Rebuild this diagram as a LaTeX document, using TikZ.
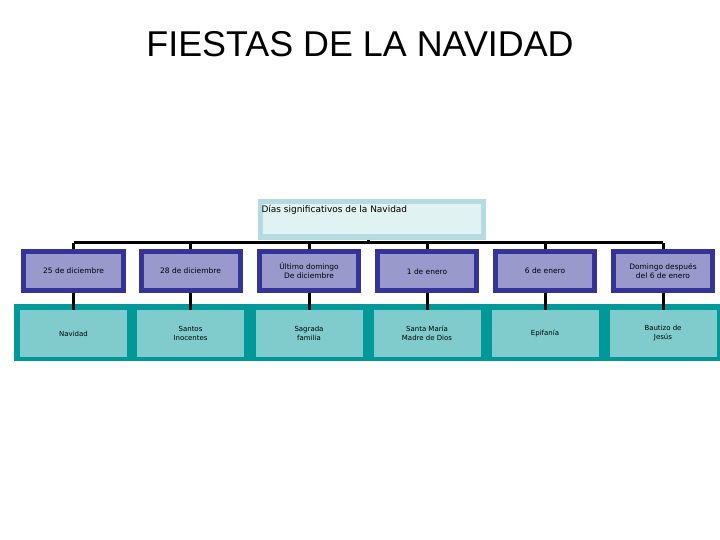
\documentclass[tikz,border=0pt]{standalone}
\usepackage{fontspec}
\setmainfont{Liberation Sans}
\newfontfamily\boxfont{DejaVu Sans}
\definecolor{navy}{HTML}{333399}
\definecolor{lav}{HTML}{9999CC}
\definecolor{teal2}{HTML}{009999}
\definecolor{lteal}{HTML}{80CCCC}
\definecolor{topb}{HTML}{B4DCE0}
\definecolor{topf}{HTML}{E0F2F2}
\begin{document}
\begin{tikzpicture}[x=1bp,y=-1bp,
  datebox/.style={draw=navy,line width=5bp,fill=lav,minimum width=99bp,minimum height=38bp,inner sep=1bp,align=center,font=\boxfont\fontsize{7.5}{9}\selectfont},
  feastbox/.style={fill=lteal,minimum width=107bp,minimum height=47bp,inner sep=1bp,align=center,font=\boxfont\fontsize{7}{9}\selectfont},
  conn/.style={line width=3bp,black}]
\useasboundingbox (0,0) rectangle (720,540);
\node[font=\fontsize{36}{40}\selectfont] (title) at (360,44) {FIESTAS DE LA NAVIDAD};
\node[draw=topb,line width=5bp,fill=topf,minimum width=223bp,minimum height=35bp,anchor=north west,inner sep=0pt] (top) at (257.5,199.5) {};
\node[font=\boxfont\fontsize{9}{11}\selectfont,anchor=west] (toptxt) at (258,210) {Días significativos de la Navidad};
\fill[teal2] (14,304) rectangle (720,361);
\coordinate (bus) at (0,243);
\foreach \n/\x/\t/\f in {1/73.5/{25 de diciembre}/{Navidad},
  2/190.5/{28 de diciembre}/{Santos\\Inocentes},
  3/309/{Último domingo\\De diciembre}/{Sagrada\\familia},
  4/427/{\\[-2bp]1 de enero}/{Santa María\\Madre de Dios},
  5/545/{6 de enero}/{Epifanía},
  6/663/{Domingo después\\del 6 de enero}/{Bautizo de\\Jesús}}{
  \node[datebox] (d\n) at (\x,271) {\t};
  \node[feastbox] (f\n) at (\x,333.5) {\f};
}
\draw[conn] (top.south -| 368,0) -- (368,243);
\draw[conn] (d1.north |- bus) -- (d6.north |- bus);
\foreach \n in {1,...,6}{
  \draw[conn] (d\n.north |- bus) -- (d\n.north);
  \draw[conn] (d\n.south) -- (f\n.north);
}
\end{tikzpicture}
\end{document}
